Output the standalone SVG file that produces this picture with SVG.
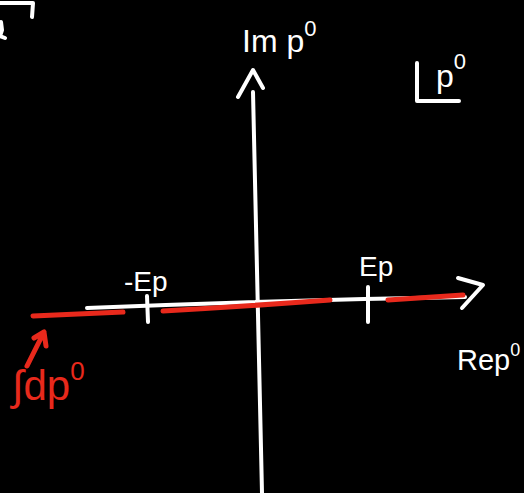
<svg xmlns="http://www.w3.org/2000/svg" width="524" height="493" viewBox="0 0 524 493">
<style>
.w{fill:none;stroke:#fff;stroke-width:4;stroke-linecap:round;stroke-linejoin:round}
.r{fill:none;stroke:#e8291c;stroke-width:5;stroke-linecap:round;stroke-linejoin:round}
.tw{fill:#fff;font-family:"Liberation Sans",Arial,sans-serif}
.tr{fill:#e8291c;font-family:"Liberation Sans",Arial,sans-serif}
</style>
<rect width="524" height="493" fill="#000"/>
<g id="corner-fragment">
<path class="w" d="M0 3 L33 3 L32 17"/>
<path class="w" d="M1 22 L2 30 L0 36 L5 38"/>
</g>
<g id="connectors">
<path class="w" d="M253 92 Q257 300 262 493"/>
<path class="w" d="M238 97 L253 70 L263 88"/>
<path class="w" d="M87 308 Q280 300 465 297"/>
<path class="w" d="M458 278 L483 285 L462 308"/>
<path class="w" d="M147 296 L148 322"/>
<path class="w" d="M368 287 L368 322"/>
<path class="r" d="M33 316 L123 312"/>
<path class="r" d="M163 311 Q250 306 330 300"/>
<path class="r" d="M388 300 L463 295"/>
<path class="r" d="M27 366 L44 332 M34 338 L44 332 L46 346"/>
</g>
<g id="im-label"><text class="tw" x="242" y="52" font-size="32">Im p<tspan dy="-16" font-size="22">0</tspan></text></g>
<g id="contour-label">
<path class="w" d="M417 63 L417 101 L459 101"/>
<text class="tw" x="436" y="87" font-size="32">p<tspan dy="-18" font-size="22">0</tspan></text>
</g>
<g id="minus-ep"><text class="tw" x="124" y="291" font-size="28">-Ep</text></g>
<g id="ep"><text class="tw" x="359" y="276" font-size="28">Ep</text></g>
<g id="re-label"><text class="tw" x="457" y="370" font-size="29">Rep<tspan dy="-14" font-size="18">0</tspan></text></g>
<g id="integral-label"><text class="tr" x="12" y="400" font-size="42">∫dp<tspan dy="-20" font-size="26">0</tspan></text></g>
</svg>
